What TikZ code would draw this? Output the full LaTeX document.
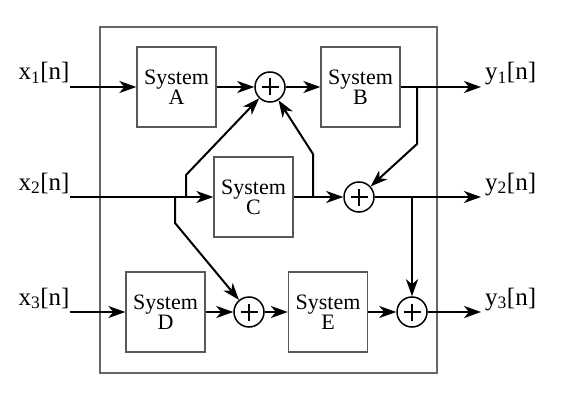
\documentclass[tikz,border=0pt]{standalone}
\usepackage{fontspec}
\setmainfont{Liberation Serif}
\usetikzlibrary{arrows.meta}
\begin{document}
\begin{tikzpicture}[x=1pt,y=-1pt,
  sysbox/.style={draw=black!65,line width=1.3pt,minimum width=79pt,minimum height=80pt,inner sep=0pt,align=center,font=\fontsize{22}{20}\selectfont},
  sumnode/.style={draw,circle,line width=1.5pt,minimum size=30pt,inner sep=0pt,
    path picture={\draw[line width=1.8pt] ([xshift=-8.5pt]path picture bounding box.center) -- ([xshift=8.5pt]path picture bounding box.center);
                  \draw[line width=1.8pt] ([yshift=-8.5pt]path picture bounding box.center) -- ([yshift=8.5pt]path picture bounding box.center);}},
  lbl/.style={font=\fontsize{25}{25}\selectfont,inner sep=0pt},
  wire/.style={line width=2pt,-{Stealth[length=17pt,width=12pt,inset=5pt]}},
  line join=miter]
\useasboundingbox (0,0) rectangle (562,401);
\node[draw=black!60,line width=1.3pt,minimum width=337pt,minimum height=346pt,inner sep=0pt] (frame) at (268.5,200) {};
% boxes
\node[sysbox] (A) at (176.5,87) {System\\A};
\node[sysbox] (B) at (360.5,87) {System\\B};
\node[sysbox] (C) at (253.5,197) {System\\C};
\node[sysbox] (D) at (165.5,312) {System\\D};
\node[sysbox] (E) at (328,312) {System\\E};
% sums
\node[sumnode] (s1) at (270,87) {};
\node[sumnode] (s2) at (359,197) {};
\node[sumnode] (s3) at (249,312) {};
\node[sumnode] (s4) at (412,312) {};
% labels
\node[lbl,anchor=base] (x1) at (44,80) {x\textsubscript{1}[n]};
\node[lbl,anchor=base] (x2) at (44,190) {x\textsubscript{2}[n]};
\node[lbl,anchor=base] (x3) at (44,305) {x\textsubscript{3}[n]};
\node[lbl,anchor=base west] (y1) at (485,80) {y\textsubscript{1}[n]};
\node[lbl,anchor=base west] (y2) at (485,190) {y\textsubscript{2}[n]};
\node[lbl,anchor=base west] (y3) at (485,305) {y\textsubscript{3}[n]};
% coordinates
\coordinate (i1) at (70,87);
\coordinate (i2) at (70,197);
\coordinate (i3) at (70,312);
\coordinate (o1) at (481,87);
\coordinate (o2) at (481,197);
\coordinate (o3) at (481,312);
\coordinate (bx2u) at (186,197);
\coordinate (bx2uk) at (186,175);
\coordinate (bx2d) at (175,197);
\coordinate (bx2dk) at (175,223);
\coordinate (bc) at (313,197);
\coordinate (bck) at (313,154);
\coordinate (bb) at (417,87);
\coordinate (bbk) at (417,144);
\coordinate (bs2) at (412,197);
% row 1
\draw[wire] (i1) -- (A);
\draw[wire] (A) -- (s1);
\draw[wire] (s1) -- (B);
\draw[wire] (B) -- (o1);
\draw[wire] (bb) -- (bbk) -- (s2);
% row 2
\draw[wire] (i2) -- (C);
\draw[wire] (bx2u) -- (bx2uk) -- (s1);
\draw[wire] (bx2d) -- (bx2dk) -- (s3);
\draw[wire] (C) -- (s2);
\draw[wire] (bc) -- (bck) -- (s1);
\draw[wire] (s2) -- (o2);
\draw[wire] (bs2) -- (s4);
% row 3
\draw[wire] (i3) -- (D);
\draw[wire] (D) -- (s3);
\draw[wire] (s3) -- (E);
\draw[wire] (E) -- (s4);
\draw[wire] (s4) -- (o3);
\end{tikzpicture}
\end{document}
